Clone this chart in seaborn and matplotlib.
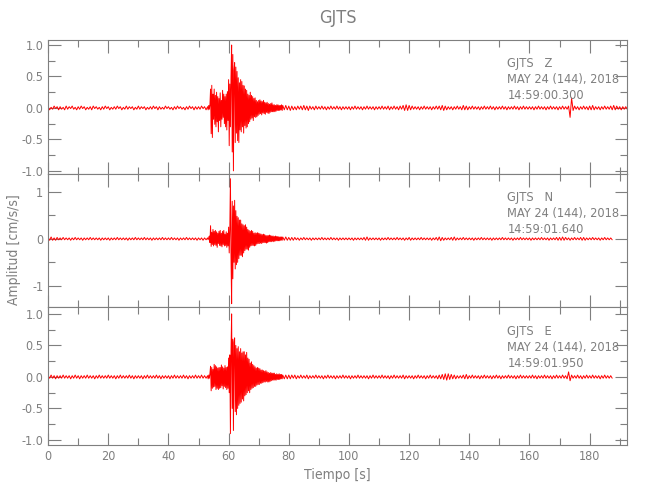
import numpy as np
import pandas as pd
import matplotlib
matplotlib.use("Agg")
import matplotlib.pyplot as plt
from matplotlib.ticker import MultipleLocator, FormatStrFormatter
import seaborn as sns

# Acceleration traces, in units of 0.01 cm/s/s.
# Quiet parts: one sample every 0.5 s (rows of 10 s).
# Strong-motion window 53-78 s: one sample every 0.2 s (rows of 1 s).
pre_dt, event_dt, post_dt = 0.5, 0.2, 0.5
event_start, post_start = 53.0, 78.0

z_pre = [
    2, -3, 1, -2, 3, -1, 2, -3, 2, -2, 1, -3, 3, -2, 2, -1, 3, -2, 1, -3,
    2, -2, 3, -1, 2, -3, 1, -2, 2, -3, 3, -1, 2, -2, 1, -3, 2, -2, 3, -1,
    2, -3, 1, -2, 2, -2, 3, -1, 2, -3, 1, -2, 3, -2, 2, -1, 2, -3, 1, -2,
    3, -2, 2, -1, 2, -3, 1, -2, 2, -2, 3, -1, 2, -3, 2, -2, 1, -2, 3, -1,
    2, -2, 1, -3, 2, -2, 3, -1, 2, -2, 1, -3, 2, -2, 3, -1, 2, -3, 2, -2,
    2, -2, 3, -1, 2, -3,
]
z_event = [
    2, -3, 4, -2, 6,
    30, -41, 36, -47, 22,
    -18, 30, -26, 20, -30,
    25, -22, 18, -38, 15,
    -20, 24, -30, 12, -18,
    28, -15, 22, -25, 18,
    -30, 22, -35, 26, -20,
    45, -60, 38, -30, 50,
    100, -70, 85, -100, 60,
    72, -55, 65, -40, 58,
    -52, 48, -55, 40, -35,
    45, -38, 42, -30, 36,
    -40, 35, -28, 30, -32,
    28, -30, 22, -25, 20,
    -22, 25, -18, 20, -16,
    18, -20, 15, -14, 16,
    -15, 12, -14, 10, -12,
    12, -10, 13, -9, 11,
    -11, 10, -8, 12, -9,
    9, -10, 8, -7, 9,
    -8, 7, -9, 6, -7,
    7, -6, 8, -6, 5,
    -6, 5, -6, 4, -5,
    5, -4, 5, -4, 4,
    -4, 4, -3, 5, -4,
]
z_post = [
    4, -3, 4, -3,
    3, -4, 3, -3, 2, -3, 3, -2, 3, -3, 4, -3, 3, -4, 3, -2, 2, -3, 3, -2,
    2, -2, 3, -2, 2, -3, 2, -2, 3, -2, 2, -2, 3, -2, 2, -3, 2, -2, 2, -2,
    2, -3, 2, -2, 3, -2, 2, -2, 2, -3, 2, -2, 3, -2, 2, -2, 2, -3, 2, -2,
    2, -2, 3, -2, 2, -2, 3, -3, 2, -2, 3, -2, 2, -3, 3, -2, 4, -4, 5, -4,
    4, -3, 3, -2, 2, -2, 2, -3, 2, -2, 3, -2, 2, -2, 2, -3, 2, -2, 3, -2,
    3, -3, 4, -4, 3, -3, 2, -2, 2, -3, 2, -2, 3, -2, 2, -3, 4, -3, 3, -3,
    2, -2, 3, -2, 2, -2, 2, -3, 2, -2, 3, -2, 2, -2, 3, -2, 2, -3, 2, -2,
    2, -2, 3, -2, 2, -3, 2, -2, 2, -2, 3, -2, 2, -3, 2, -2, 3, -2, 2, -2,
    2, -2, 2, -3, 2, -2, 3, -2, 2, -2, 2, -3, 2, -2, 3, -2, 2, -2, 2, -3,
    2, -2, 3, -2, 2, -2, 3, -15, 16, -4, 3, -2, 2, -3, 2, -2, 3, -2, 2, -3,
    3, -3, 4, -3, 2, -2, 2, -3, 2, -2, 3, -2, 2, -2, 3, -3, 4, -3, 3, -2,
    2, -3, 2, -2, 2, -2,
]

n_pre = [
    3, -3, 4, -3, 2, -3, 3, -2, 2, -2, 3, -2, 2, -2, 2, -3, 2, -2, 3, -2,
    2, -2, 2, -3, 2, -2, 2, -2, 3, -2, 2, -2, 2, -2, 2, -3, 2, -2, 2, -2,
    2, -3, 2, -2, 2, -2, 3, -2, 2, -2, 2, -2, 2, -3, 2, -2, 2, -2, 3, -2,
    2, -2, 2, -2, 3, -2, 2, -2, 2, -3, 2, -2, 2, -2, 2, -2, 3, -2, 2, -2,
    2, -2, 3, -2, 2, -2, 2, -3, 2, -2, 2, -2, 3, -2, 2, -2, 2, -2, 2, -3,
    2, -2, 2, -3, 2, -2,
]
n_event = [
    2, -2, 3, 6, -8,
    28, -16, 14, -12, 20,
    -15, 16, -12, 18, -14,
    15, -18, 12, -10, 16,
    -14, 18, -15, 12, -17,
    16, -12, 18, -15, 10,
    -14, 15, -18, 12, -15,
    25, -30, 20, 128, -40,
    -138, 80, -85, 70, -50,
    82, -64, 60, -55, 48,
    -50, 45, -42, 40, -35,
    40, -35, 32, -38, 30,
    -30, 28, -25, 30, -22,
    25, -22, 20, -24, 18,
    -18, 16, -15, 18, -14,
    16, -14, 12, -15, 13,
    -14, 12, -11, 13, -10,
    12, -10, 11, -9, 10,
    -10, 9, -8, 10, -8,
    9, -8, 7, -9, 7,
    -8, 7, -6, 8, -6,
    7, -6, 6, -5, 6,
    -6, 5, -5, 6, -4,
    5, -4, 5, -4, 4,
    -4, 4, -3, 4, -3,
]
n_post = [
    4, -3, 4, -3,
    3, -3, 3, -3, 3, -2, 2, -3, 2, -2, 3, -2, 2, -2, 2, -3, 2, -2, 2, -2,
    2, -2, 3, -2, 2, -2, 2, -2, 3, -2, 2, -2, 2, -3, 2, -2, 2, -2, 2, -2,
    2, -2, 2, -3, 2, -2, 2, -2, 2, -2, 3, -3, 4, -3, 2, -2, 2, -2, 2, -2,
    2, -3, 2, -2, 2, -2, 3, -2, 2, -2, 2, -2, 3, -2, 2, -2, 2, -3, 2, -2,
    3, -3, 2, -2, 2, -2, 2, -2, 3, -2, 2, -2, 2, -2, 2, -3, 2, -2, 3, -3,
    4, -4, 3, -3, 2, -2, 2, -2, 3, -3, 4, -3, 2, -2, 2, -2, 3, -2, 2, -2,
    2, -2, 2, -3, 2, -2, 2, -2, 3, -2, 2, -2, 2, -2, 2, -3, 2, -2, 2, -2,
    2, -2, 3, -2, 2, -2, 2, -2, 2, -3, 2, -2, 2, -2, 3, -2, 2, -2, 2, -2,
    2, -3, 2, -2, 2, -2, 2, -2, 3, -2, 2, -2, 2, -3, 2, -2, 2, -2, 3, -3,
    3, -3, 4, -3, 3, -2, 2, -3, 2, -2, 3, -2, 2, -2, 3, -3, 3, -3, 2, -2,
    2, -2, 3, -2, 2, -2, 2, -3, 2, -2, 3, -2, 2, -2, 2, -2,
]

e_pre = [
    2, -2, 3, -2, 2, -3, 2, -2, 2, -2, 3, -2, 2, -2, 2, -3, 2, -2, 3, -2,
    2, -3, 2, -2, 2, -2, 3, -2, 2, -2, 2, -3, 2, -2, 3, -2, 2, -2, 2, -2,
    3, -2, 2, -2, 2, -3, 2, -2, 3, -2, 2, -2, 2, -2, 3, -2, 2, -3, 2, -2,
    2, -2, 2, -3, 2, -2, 3, -2, 2, -2, 2, -2, 3, -2, 2, -3, 2, -2, 2, -2,
    2, -3, 2, -2, 3, -2, 2, -2, 2, -2, 3, -2, 2, -3, 2, -2, 2, -2, 3, -2,
    2, -2, 3, -2, 2, -2,
]
e_event = [
    2, -3, 3, -2, 6,
    17, -22, 15, -18, 12,
    -16, 20, -15, 18, -20,
    16, -18, 14, -20, 15,
    -18, 15, -17, 19, -14,
    16, -19, 14, -15, 18,
    -17, 15, -20, 16, -18,
    30, -25, 35, -90, 40,
    100, -50, 60, -85, 55,
    62, -55, 50, -60, 45,
    -50, 48, -45, 40, -42,
    45, -40, 38, -35, 40,
    -38, 40, -30, 35, -28,
    39, -25, 30, -22, 28,
    -25, 22, -20, 24, -18,
    20, -17, 18, -15, 16,
    -15, 14, -13, 15, -12,
    14, -12, 13, -10, 11,
    -10, 11, -9, 10, -8,
    9, -8, 10, -7, 8,
    -8, 7, -8, 6, -7,
    7, -6, 6, -5, 6,
    -5, 6, -5, 4, -5,
    5, -4, 4, -4, 5,
    -4, 4, -3, 4, -3,
]
e_post = [
    3, -3, 3, -3,
    3, -3, 3, -2, 3, -3, 2, -2, 3, -2, 2, -2, 3, -3, 2, -2, 2, -2, 3, -2,
    2, -2, 2, -3, 2, -2, 3, -2, 2, -2, 2, -3, 2, -2, 2, -2, 3, -2, 2, -2,
    2, -3, 2, -2, 2, -2, 3, -2, 2, -2, 2, -2, 2, -3, 2, -2, 3, -2, 2, -2,
    2, -2, 3, -2, 2, -2, 2, -3, 2, -2, 3, -2, 2, -2, 2, -2, 3, -3, 2, -2,
    2, -2, 2, -3, 2, -2, 3, -2, 2, -2, 2, -3, 2, -2, 3, -2, 2, -2, 2, -3,
    3, -3, 4, -4, 5, -5, 5, -4, 4, -3, 3, -3, 2, -2, 2, -2, 3, -3, 4, -3,
    2, -2, 3, -2, 2, -2, 2, -3, 2, -2, 3, -2, 2, -2, 2, -3, 2, -2, 3, -2,
    2, -3, 2, -2, 2, -2, 3, -2, 2, -2, 2, -3, 2, -2, 3, -2, 2, -2, 2, -2,
    2, -2, 3, -2, 2, -3, 2, -2, 2, -2, 3, -2, 2, -2, 2, -3, 2, -2, 3, -2,
    2, -2, 3, -2, 2, -3, 8, -6, 3, -2, 2, -2, 3, -2, 2, -3, 2, -2, 3, -2,
    2, -2, 3, -2, 2, -2, 2, -3, 2, -2, 3, -2, 2, -2, 2, -2,
]

components = ["Z", "N", "E"]
start_times = ["14:59:00.300", "14:59:01.640", "14:59:01.950"]
y_limits = [(-1.05, 1.08), (-1.45, 1.38), (-1.08, 1.11)]

traces = [(z_pre, z_event, z_post), (n_pre, n_event, n_post), (e_pre, e_event, e_post)]
gray = "#7f7f7f"
red = "#ff0000"

sns.set_style("ticks")
plt.rcParams["font.family"] = ["DejaVu Sans"]
plt.rcParams["font.stretch"] = "condensed"
plt.rcParams["axes.unicode_minus"] = False
plt.rcParams["text.color"] = gray
plt.rcParams["axes.labelcolor"] = gray

fig, axes = plt.subplots(3, 1, figsize=(6.5, 5), dpi=100, sharex=True,
                         gridspec_kw={"height_ratios": [134, 133, 138]})
fig.subplots_adjust(left=0.074, right=0.965, top=0.92, bottom=0.11, hspace=0)

for ax, comp, t0, (pre, event, post), ylim in zip(axes, components, start_times, traces, y_limits):
    t = np.concatenate([np.arange(len(pre)) * pre_dt,
                        event_start + np.arange(len(event)) * event_dt,
                        post_start + np.arange(len(post)) * post_dt])
    amp = np.array(pre + event + post) / 100.0
    df = pd.DataFrame({"t": t, "amp": amp})
    sns.lineplot(data=df, x="t", y="amp", ax=ax, color=red, linewidth=0.7,
                 estimator=None, sort=False)
    ax.set_xlim(0, 192.5)
    ax.set_ylim(*ylim)
    ax.set_xlabel("")
    ax.set_ylabel("")
    ax.xaxis.set_major_locator(MultipleLocator(20))
    ax.xaxis.set_minor_locator(MultipleLocator(10))
    if comp == "N":
        ax.yaxis.set_major_locator(MultipleLocator(1))
        ax.yaxis.set_minor_locator(MultipleLocator(0.5))
        ax.yaxis.set_major_formatter(FormatStrFormatter("%d"))
    else:
        ax.yaxis.set_major_locator(MultipleLocator(0.5))
        ax.yaxis.set_minor_locator(MultipleLocator(0.25))
        ax.yaxis.set_major_formatter(FormatStrFormatter("%.1f"))
    ax.tick_params(which="both", direction="in", top=True, right=True,
                   colors=gray, labelcolor=gray, labelsize=9, width=0.8)
    ax.tick_params(which="major", length=9)
    ax.tick_params(which="minor", length=5)
    for s in ax.spines.values():
        s.set_color(gray)
        s.set_linewidth(0.8)
    ax.text(0.793, 0.87, f"GJTS   {comp}\nMAY 24 (144), 2018\n{t0}",
            transform=ax.transAxes, ha="left", va="top", fontsize=9.2,
            color=gray, linespacing=1.3)

axes[0].set_title("GJTS", fontsize=13, color=gray, pad=12)
axes[2].set_xlabel("Tiempo [s]", fontsize=10, color=gray)
fig.text(0.022, 0.5, "Amplitud [cm/s/s]", rotation=90, ha="center",
         va="center", fontsize=10, color=gray)

plt.savefig("out.png", dpi=100)
